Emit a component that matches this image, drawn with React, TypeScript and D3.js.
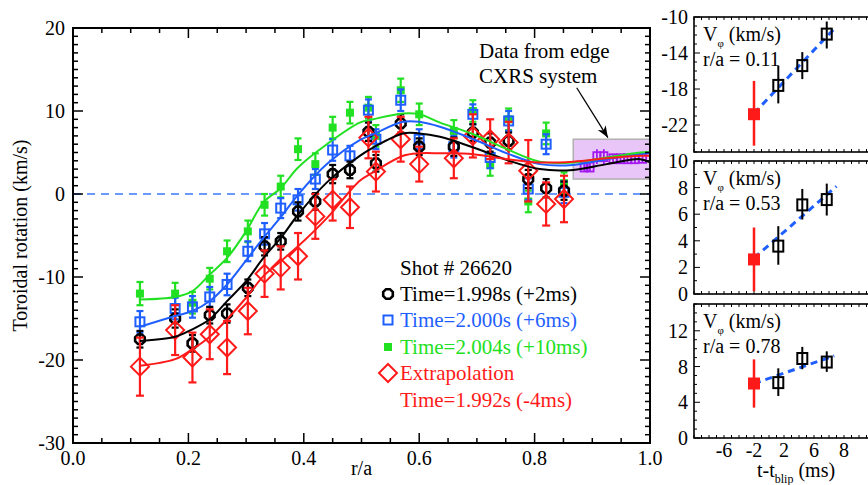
import React from 'react';
import * as d3 from 'd3';

// ---------- main panel data ----------
const rPos = [0.116, 0.177, 0.207, 0.237, 0.267, 0.303, 0.332, 0.36, 0.39, 0.42, 0.45, 0.48, 0.512, 0.525, 0.568, 0.60, 0.66, 0.693, 0.723, 0.755, 0.789, 0.82, 0.851];
const blackV = [-17.5, -15.0, -18.0, -14.6, -14.4, -11.3, -6.3, -5.7, -2.1, -0.9, 2.4, 2.9, 7.5, 3.7, 8.5, 5.7, 5.7, 7.4, 6.2, 6.4, 1.8, 0.7, 0.4];
const blackE = [1.0, 1.1, 1.0, 1.0, 1.1, 1.0, 1.1, 1.0, 1.1, 1.0, 1.1, 1.0, 1.1, 1.0, 1.1, 1.0, 1.1, 1.0, 1.1, 1.0, 1.1, 1.1, 1.1];
const blueV = [-15.4, -13.8, -13.6, -12.4, -10.9, -6.9, -4.8, -1.7, -0.7, 1.8, 5.3, 4.6, 10.1, 6.6, 11.3, 6.6, 5.7, 9.6, 4.4, 8.8, 0.6, 6.0, 0.2];
const blueE = [1.3, 1.3, 1.3, 1.2, 1.3, 1.2, 1.3, 1.2, 1.3, 1.2, 1.3, 1.2, 1.3, 1.2, 1.3, 1.2, 1.3, 1.2, 1.3, 1.2, 1.3, 1.2, 1.3];
const greenV = [-12.0, -12.0, -13.1, -10.2, -6.9, -4.5, -1.3, 0.9, 5.4, 3.6, 8.0, 9.8, 10.4, 7.0, 12.5, 9.6, 7.6, 10.0, 3.5, 9.0, -0.9, 7.3, 1.3];
const greenE = [1.4, 1.3, 1.3, 1.3, 1.3, 1.3, 1.3, 1.3, 1.3, 1.3, 1.3, 1.3, 1.3, 1.3, 1.4, 1.3, 1.3, 1.3, 1.3, 1.3, 1.3, 1.3, 1.3];
const redV = [-20.8, -16.4, -19.7, -16.9, -18.5, -14.1, -9.6, -8.9, -7.5, -2.7, -0.7, -1.6, 6.8, 2.7, 6.6, 3.6, 4.3, 7.0, 6.6, 6.2, 2.8, -1.2, -0.6];
const redE = [3.5, 3.0, 3.0, 3.0, 3.2, 2.8, 2.8, 2.6, 2.8, 2.7, 2.5, 2.5, 2.5, 2.4, 2.7, 2.1, 2.4, 2.6, 2.4, 2.5, 3.7, 2.6, 2.8];

// fitted profiles
const fitR = [0.116, 0.177, 0.207, 0.237, 0.267, 0.30, 0.33, 0.36, 0.39, 0.44, 0.497, 0.52, 0.572, 0.60, 0.636, 0.694, 0.752, 0.809, 0.867, 0.925, 0.983, 1.0];
const fitGreen = [-12.7, -12.4, -11.7, -9.7, -7.7, -4.5, -1.0, 0.7, 3.2, 6.0, 8.6, 9.0, 9.7, 9.6, 8.6, 7.2, 5.4, 3.9, 3.8, 4.4, 5.0, 5.1];
const fitBlue = [-16.0, -14.7, -14.1, -12.9, -10.9, -8.0, -5.3, -2.8, -0.1, 3.6, 6.5, 7.2, 8.7, 8.7, 8.1, 6.6, 4.9, 3.6, 3.5, 4.2, 4.8, 4.9];
const fitBlack = [-17.7, -17.2, -16.3, -15.1, -12.9, -10.5, -7.7, -5.3, -2.5, 1.4, 4.6, 5.6, 7.3, 7.3, 6.9, 5.6, 4.1, 3.0, 2.9, 3.6, 4.2, 3.8];
const fitRed = [-20.7, -19.9, -18.7, -17.2, -15.1, -12.5, -9.9, -8.1, -6.3, -2.9, 1.6, 2.6, 4.6, 4.9, 4.9, 4.8, 4.2, 3.8, 3.9, 4.3, 4.6, 4.6];

// edge CXRS
const edgeR = [0.886, 0.896, 0.908, 0.920, 0.936, 0.949, 0.961, 0.974, 0.987];
const edgeV = [3.25, 3.25, 4.5, 4.5, 4.25, 4.25, 4.25, 4.25, 4.3];
const edgeE = [0.6, 0.6, 0.9, 0.9, 0.5, 0.5, 0.5, 0.5, 0.5];
const edgeBox = { r0: 0.867, r1: 1.0, v0: 1.8, v1: 6.6 };

const xTicksMain = [0, 0.2, 0.4, 0.6, 0.8, 1.0];
const yTicksMain = [-30, -20, -10, 0, 10, 20];

// ---------- side panels ----------
const panelXTickVals = [-6, -2, 2, 6, 10];
const panelXTickLabels = ['-6', '-2', '2', '6', '8'];
const panels = [
  { label: '0.11', domain: [-25, -10], ticks: [-22, -18, -14, -10], top: 17, bottom: 152,
    redT: -2, redV: -20.8, redLo: -24.3, redHi: -17.1,
    t: [1.24, 4.44, 7.7], v: [-17.6, -15.4, -11.9], lo: [-19.6, -16.9, -13.5], hi: [-15.4, -13.9, -10.5],
    fit: [[-2, -20.7], [8.7, -11.3]] },
  { label: '0.53', domain: [0, 10], ticks: [0, 2, 4, 6, 8, 10], top: 161, bottom: 294,
    redT: -2, redV: 2.6, redLo: 0.2, redHi: 5.0,
    t: [1.24, 4.44, 7.7], v: [3.6, 6.7, 7.1], lo: [2.2, 5.6, 5.9], hi: [5.1, 7.9, 8.3],
    fit: [[-2, 2.7], [9.0, 8.1]] },
  { label: '0.78', domain: [0, 15], ticks: [0, 4, 8, 12], top: 304, bottom: 438,
    redT: -2, redV: 6.1, redLo: 3.4, redHi: 8.8,
    t: [1.24, 4.44, 7.7], v: [6.2, 8.9, 8.5], lo: [4.7, 7.7, 7.4], hi: [7.8, 10.2, 9.7],
    fit: [[-2, 6.1], [8.7, 9.2]] },
];

const FONT = 'Liberation Serif, Tinos, DejaVu Serif, serif';
const BLACK = '#000000';
const BLUE = '#1f5fff';
const GREEN = '#22e022';
const RED = '#ff1a1a';
const PURPLE = '#a418f0';

const x = d3.scaleLinear().domain([0, 1]).range([73, 650]);
const y = d3.scaleLinear().domain([-30, 20]).range([443, 28]);
const px = d3.scaleLinear().domain([-10, 14]).range([694, 874]);

function ErrBar({ cx, y0, y1, color, cap = 4, sw = 2.2 }: any) {
  return (
    <g stroke={color} strokeWidth={sw}>
      <line x1={cx} x2={cx} y1={y0} y2={y1} />
      {cap > 0 && <line x1={cx - cap} x2={cx + cap} y1={y0} y2={y0} />}
      {cap > 0 && <line x1={cx - cap} x2={cx + cap} y1={y1} y2={y1} />}
    </g>
  );
}

function octagon(cx: number, cy: number, r: number) {
  const pts = d3.range(8).map(i => {
    const a = (Math.PI / 8) + (i * Math.PI) / 4;
    return [cx + r * Math.cos(a), cy + r * Math.sin(a)].join(',');
  });
  return pts.join(' ');
}

function Marker({ kind, cx, cy }: any) {
  if (kind === 'black') return <polygon points={octagon(cx, cy, 5.2)} fill="none" stroke={BLACK} strokeWidth={2.6} />;
  if (kind === 'blue') return <rect x={cx - 4.5} y={cy - 4.5} width={9} height={9} fill="none" stroke={BLUE} strokeWidth={2} />;
  if (kind === 'green') return <rect x={cx - 4} y={cy - 4} width={8} height={8} fill={GREEN} />;
  if (kind === 'red') {
    const s = 9;
    return <polygon points={`${cx},${cy - s} ${cx + s},${cy} ${cx},${cy + s} ${cx - s},${cy}`} fill="none" stroke={RED} strokeWidth={2} />;
  }
  return null;
}

function Series({ vals, errs, kind, color, cap }: any) {
  return (
    <g>
      {rPos.map((r, i) => (
        <ErrBar key={'e' + i} cx={x(r)} y0={y(vals[i] + errs[i])} y1={y(vals[i] - errs[i])} color={color} cap={cap} />
      ))}
      {rPos.map((r, i) => (
        <Marker key={'m' + i} kind={kind} cx={x(r)} cy={y(vals[i])} />
      ))}
    </g>
  );
}

const fitLine = (vals: number[]) =>
  d3.line<number>().x((_, i) => x(fitR[i])).y(d => y(d)).curve(d3.curveCatmullRom.alpha(0.5))(vals) || '';

function MainPlot() {
  const minorX = d3.range(0, 1.0001, 0.05);
  const minorY = d3.range(-30, 20.0001, 1);
  const x0 = x(0), x1 = x(1), yT = y(20), yB = y(-30);
  return (
    <g>
      <rect x={x(edgeBox.r0)} y={y(edgeBox.v1)} width={x(edgeBox.r1) - x(edgeBox.r0)} height={y(edgeBox.v0) - y(edgeBox.v1)}
        fill="#e8c6f7" stroke="#b0b0b0" strokeWidth={1.5} />
      <line x1={x0} x2={x1} y1={y(0)} y2={y(0)} stroke="#3a78ff" strokeWidth={1.3} strokeDasharray="8,6" />
      <g>
        {edgeR.map((r, i) => (
          <g key={i}>
            <line x1={x(r)} x2={x(r)} y1={y(edgeV[i] + edgeE[i])} y2={y(edgeV[i] - edgeE[i])} stroke={PURPLE} strokeWidth={1.8} />
            <rect x={x(r) - 3.6} y={y(edgeV[i]) - 4.5} width={7.2} height={9} fill="none" stroke={PURPLE} strokeWidth={1.8} />
          </g>
        ))}
      </g>
      <Series vals={greenV} errs={greenE} kind="green" color={GREEN} cap={3.5} />
      <Series vals={blueV} errs={blueE} kind="blue" color={BLUE} cap={3.5} />
      <Series vals={blackV} errs={blackE} kind="black" color={BLACK} cap={3.5} />
      <Series vals={redV} errs={redE} kind="red" color={RED} cap={4} />
      <path d={fitLine(fitBlack)} fill="none" stroke={BLACK} strokeWidth={2} />
      <path d={fitLine(fitBlue)} fill="none" stroke={BLUE} strokeWidth={2} />
      <path d={fitLine(fitGreen)} fill="none" stroke={GREEN} strokeWidth={2} />
      <path d={fitLine(fitRed)} fill="none" stroke={RED} strokeWidth={2} />
      <rect x={x0} y={yT} width={x1 - x0} height={yB - yT} fill="none" stroke="#000" strokeWidth={2} />
      <g stroke="#000" strokeWidth={1.5}>
        {minorX.map((t, i) => {
          const major = Math.abs(t * 5 - Math.round(t * 5)) < 1e-6;
          const L = major ? 10 : 5;
          return (
            <g key={i}>
              <line x1={x(t)} x2={x(t)} y1={yB} y2={yB - L} />
              <line x1={x(t)} x2={x(t)} y1={yT} y2={yT + L} />
            </g>
          );
        })}
        {minorY.map((t, i) => {
          const major = Math.round(t) % 10 === 0;
          const L = major ? 10 : 5;
          return (
            <g key={i}>
              <line x1={x0} x2={x0 + L} y1={y(t)} y2={y(t)} />
              <line x1={x1} x2={x1 - L} y1={y(t)} y2={y(t)} />
            </g>
          );
        })}
      </g>
      <g style={{ fontFamily: FONT }} fontSize={20} fill="#000">
        {xTicksMain.map(t => (
          <text key={t} x={x(t)} y={yB + 22} textAnchor="middle">{d3.format('.1f')(t)}</text>
        ))}
        {yTicksMain.map(t => (
          <text key={t} x={x0 - 8} y={y(t) + 7} textAnchor="end">{t}</text>
        ))}
        <text x={x(0.5)} y={475} textAnchor="middle">r/a</text>
        <text transform={`translate(27,${(yT + yB) / 2}) rotate(-90)`} textAnchor="middle">Toroidal rotation (km/s)</text>
      </g>
      <g style={{ fontFamily: FONT }} fontSize={21} fill="#000">
        <text x={x(0.7036)} y={y(16.4)}>Data from edge</text>
        <text x={x(0.7036)} y={y(13.4)}>CXRS system</text>
      </g>
      <defs>
        <marker id="arrowHead" viewBox="0 0 10 10" refX="10" refY="5" markerWidth="9" markerHeight="9" orient="auto">
          <path d="M0,1 L10,5 L0,9 L3,5 Z" fill="#000" />
        </marker>
      </defs>
      <line x1={x(0.873)} y1={y(12.8)} x2={x(0.927)} y2={y(6.8)} stroke="#000" strokeWidth={1.3} markerEnd="url(#arrowHead)" />
      <g style={{ fontFamily: FONT }} fontSize={21}>
        <text x={400} y={275} fill="#000">Shot # 26620</text>
        <Marker kind="black" cx={388} cy={294} />
        <text x={400} y={301} fill={BLACK}>Time=1.998s (+2ms)</text>
        <Marker kind="blue" cx={388} cy={320} />
        <text x={400} y={327} fill={BLUE}>Time=2.000s (+6ms)</text>
        <Marker kind="green" cx={388} cy={347} />
        <text x={400} y={354} fill={GREEN}>Time=2.004s (+10ms)</text>
        <Marker kind="red" cx={388} cy={373} />
        <text x={400} y={380} fill={RED}>Extrapolation</text>
        <text x={400} y={407} fill={RED}>Time=1.992s (-4ms)</text>
      </g>
    </g>
  );
}

function Panel({ p, last }: any) {
  const py = d3.scaleLinear().domain(p.domain).range([p.bottom, p.top]);
  const left = px(-10), right = 874;
  const minorT = d3.range(-10, 14.001, 1);
  const [lo, hi] = p.domain;
  const minorV = d3.range(lo, hi + 0.001, 1);
  return (
    <g>
      <rect x={left} y={p.top} width={right - left} height={p.bottom - p.top} fill="#fff" stroke="#000" strokeWidth={1.6} />
      <g stroke="#000" strokeWidth={1}>
        {minorT.map((t, i) => (
          <g key={i}>
            <line x1={px(t)} x2={px(t)} y1={p.bottom} y2={p.bottom - 3} />
            <line x1={px(t)} x2={px(t)} y1={p.top} y2={p.top + 3} />
          </g>
        ))}
        {minorV.map((v, i) => (
          <line key={i} x1={left} x2={left + (p.ticks.includes(v) ? 6 : 3)} y1={py(v)} y2={py(v)} />
        ))}
      </g>
      <line x1={px(p.fit[0][0])} y1={py(p.fit[0][1])} x2={px(p.fit[1][0])} y2={py(p.fit[1][1])}
        stroke={BLUE} strokeWidth={3} strokeDasharray="7,5" />
      <line x1={px(p.redT)} x2={px(p.redT)} y1={py(p.redHi)} y2={py(p.redLo)} stroke={RED} strokeWidth={2.5} />
      <rect x={px(p.redT) - 6} y={py(p.redV) - 6} width={12} height={12} fill={RED} />
      {p.t.map((t: number, i: number) => (
        <g key={i}>
          <line x1={px(t)} x2={px(t)} y1={py(p.hi[i])} y2={py(p.lo[i])} stroke="#000" strokeWidth={2} />
          <rect x={px(t) - 5} y={py(p.v[i]) - 5.5} width={10} height={11} fill="none" stroke="#000" strokeWidth={2} />
        </g>
      ))}
      <g style={{ fontFamily: FONT }} fontSize={20} fill="#000">
        {p.ticks.map((v: number) => (
          <text key={v} x={left - 6} y={py(v) + 7} textAnchor="end">{v}</text>
        ))}
        <text x={703} y={p.top + 24}>V<tspan dy={6} fontSize={11}>φ</tspan><tspan dy={-6}> (km/s)</tspan></text>
        <text x={703} y={p.top + 49}>r/a = {p.label}</text>
        {last && panelXTickVals.map((t, i) => (
          <text key={t} x={px(t)} y={p.bottom + 19} textAnchor="middle">{panelXTickLabels[i]}</text>
        ))}
        {last && (
          <text x={757} y={477}>t-t<tspan dy={6} fontSize={12}>blip</tspan><tspan dy={-6}> (ms)</tspan></text>
        )}
      </g>
    </g>
  );
}

export default function App() {
  return (
    <svg width={868} height={485} style={{ position: 'absolute', left: 0, top: 0, background: '#fff' }}>
      <rect x={0} y={0} width={868} height={485} fill="#fff" />
      <MainPlot />
      {panels.map((p, i) => (
        <Panel key={i} p={p} last={i === panels.length - 1} />
      ))}
    </svg>
  );
}
